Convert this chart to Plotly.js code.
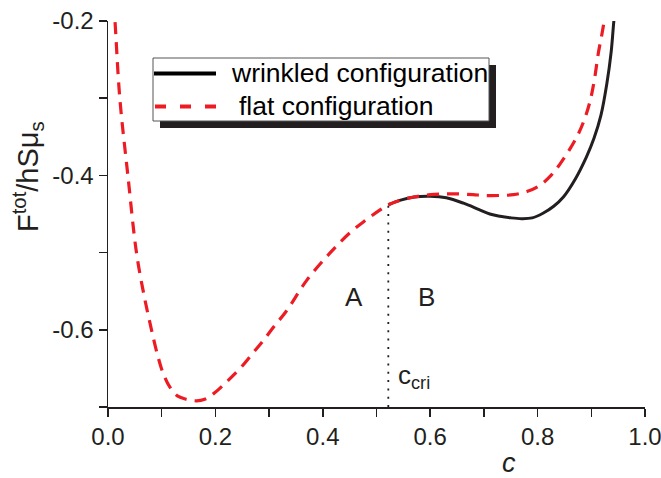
<!DOCTYPE html>
<html>
<head>
<meta charset="utf-8">
<script src="https://cdn.plot.ly/plotly-3.0.1.min.js"></script>
<style>html,body{margin:0;padding:0;background:#fff;}#chart{width:661px;height:478px;}</style>
</head>
<body>
<div id="chart"></div>
<script>
// ---- data ----
const flatC = [0.008, 0.013, 0.022, 0.037, 0.053, 0.067, 0.081, 0.092, 0.102, 0.115, 0.130, 0.146, 0.165, 0.180, 0.196, 0.220, 0.246, 0.270, 0.289, 0.310, 0.333, 0.370, 0.414, 0.451, 0.480, 0.506, 0.522, 0.545, 0.570, 0.600, 0.630, 0.655, 0.680, 0.700, 0.730, 0.755, 0.780, 0.804, 0.825, 0.842, 0.860, 0.876, 0.888, 0.898, 0.906, 0.913, 0.919, 0.924, 0.930];
const flatF = [-0.15, -0.20, -0.30, -0.40, -0.50, -0.555, -0.60, -0.632, -0.655, -0.674, -0.686, -0.690, -0.692, -0.690, -0.683, -0.668, -0.650, -0.630, -0.614, -0.595, -0.575, -0.536, -0.500, -0.474, -0.458, -0.445, -0.438, -0.432, -0.428, -0.425, -0.424, -0.424, -0.425, -0.426, -0.426, -0.425, -0.421, -0.413, -0.400, -0.385, -0.366, -0.346, -0.326, -0.303, -0.275, -0.242, -0.220, -0.200, -0.17];
const wrinkledC = [0.522, 0.545, 0.570, 0.600, 0.630, 0.662, 0.690, 0.711, 0.730, 0.750, 0.770, 0.790, 0.810, 0.830, 0.848, 0.870, 0.891, 0.905, 0.918, 0.929, 0.937, 0.942, 0.948];
const wrinkledF = [-0.438, -0.432, -0.428, -0.427, -0.429, -0.436, -0.444, -0.450, -0.453, -0.455, -0.456, -0.455, -0.449, -0.440, -0.428, -0.405, -0.376, -0.352, -0.322, -0.281, -0.240, -0.200, -0.16];
const cCri = 0.522;
const cCriLine = [-0.7, -0.438];
const seriesNames = ["wrinkled configuration", "flat configuration"];
const xTickVals = [0, 0.1, 0.2, 0.3, 0.4, 0.5, 0.6, 0.7, 0.8, 0.9, 1.0];
const xTickText = ["0.0", "", "0.2", "", "0.4", "", "0.6", "", "0.8", "", "1.0"];
const yTickVals = [-0.7, -0.6, -0.5, -0.4, -0.3, -0.2];
const yTickText = ["", "-0.6", "", "-0.4", "", "-0.2"];
const regionLabels = ["A", "B"];

const FONT = "Liberation Sans, Arial, sans-serif";
const INK = "#231f20";
const RED = "#ed1c24";

// pixel -> paper helpers for layout decorations (plot area 108..645 x 21..407)
const L = 108, R = 16, T = 21, B = 71, W = 661, H = 478;
const pw = W - L - R, ph = H - T - B;
const px = X => (X - L) / pw;
const py = Y => (H - B - Y) / ph;

const traces = [
  {x: [cCri, cCri], y: cCriLine, mode: "lines", line: {color: INK, width: 1.8, dash: "2px,6.3px"}, showlegend: false, hoverinfo: "skip"},
  {x: wrinkledC, y: wrinkledF, name: seriesNames[0], mode: "lines", line: {color: INK, width: 3, shape: "spline", smoothing: 1}, showlegend: false},
  {x: flatC, y: flatF, name: seriesNames[1], mode: "lines", line: {color: RED, width: 3.2, dash: "12px,8px", shape: "spline", smoothing: 1}, showlegend: false}
];

const shapes = [
  // legend shadow
  {type: "rect", xref: "paper", yref: "paper", x0: px(160), x1: px(496), y0: py(128), y1: py(65), fillcolor: INK, line: {width: 0}},
  // legend box
  {type: "rect", xref: "paper", yref: "paper", x0: px(153), x1: px(489), y0: py(121), y1: py(58), fillcolor: "#ffffff", line: {color: "#555555", width: 1}},
  // legend samples
  {type: "line", xref: "paper", yref: "paper", x0: px(154), x1: px(216), y0: py(73.5), y1: py(73.5), line: {color: "#000000", width: 4}},
  {type: "line", xref: "paper", yref: "paper", x0: px(155), x1: px(217), y0: py(106.5), y1: py(106.5), line: {color: RED, width: 4, dash: "11px,14px"}}
];

const annotations = [
  {xref: "paper", yref: "paper", x: px(229), y: py(73), xanchor: "left", yanchor: "middle", text: seriesNames[0], showarrow: false, font: {family: FONT, size: 26.5, color: "#000"}},
  {xref: "paper", yref: "paper", x: px(237), y: py(106), xanchor: "left", yanchor: "middle", text: seriesNames[1], showarrow: false, font: {family: FONT, size: 26.5, color: "#000"}},
  {xref: "x", yref: "y", x: 0.459, y: -0.557, text: regionLabels[0], showarrow: false, font: {family: FONT, size: 26, color: INK}},
  {xref: "x", yref: "y", x: 0.594, y: -0.557, text: regionLabels[1], showarrow: false, font: {family: FONT, size: 26, color: INK}},
  {xref: "paper", yref: "paper", x: px(396), y: py(376), xanchor: "left", yanchor: "middle", text: "c<sub>cri</sub>", showarrow: false, font: {family: FONT, size: 26, color: INK}},
  {xref: "paper", yref: "paper", x: px(509), y: py(463), xanchor: "center", yanchor: "middle", text: "<i>c</i>", showarrow: false, font: {family: FONT, size: 27, color: INK}},
  {xref: "paper", yref: "paper", x: px(28), y: py(177), xanchor: "center", yanchor: "middle", textangle: -90, text: "F<sup>tot</sup>/hSμ<sub>s</sub>", showarrow: false, font: {family: FONT, size: 29, color: INK}}
];

const layout = {
  width: W, height: H,
  margin: {l: L, r: R, t: T, b: B, pad: 0},
  paper_bgcolor: "#ffffff", plot_bgcolor: "#ffffff",
  showlegend: false,
  font: {family: FONT, color: INK},
  xaxis: {
    range: [0, 1.0], tickmode: "array", tickvals: xTickVals, ticktext: xTickText,
    ticks: "outside", ticklen: 8, tickwidth: 1.5, tickcolor: INK, ticklabeloverflow: "allow",
    showline: true, linecolor: INK, linewidth: 1.5, showgrid: false, zeroline: false,
    tickfont: {family: FONT, size: 24, color: INK}, fixedrange: true
  },
  yaxis: {
    range: [-0.7, -0.2], tickmode: "array", tickvals: yTickVals, ticktext: yTickText,
    ticks: "outside", ticklen: 8, tickwidth: 1.5, tickcolor: INK, ticklabeloverflow: "allow",
    showline: true, linecolor: INK, linewidth: 1.5, showgrid: false, zeroline: false,
    tickfont: {family: FONT, size: 24, color: INK}, fixedrange: true
  },
  shapes: shapes,
  annotations: annotations
};

Plotly.newPlot("chart", traces, layout, {displayModeBar: false, staticPlot: true});
</script>
</body>
</html>
